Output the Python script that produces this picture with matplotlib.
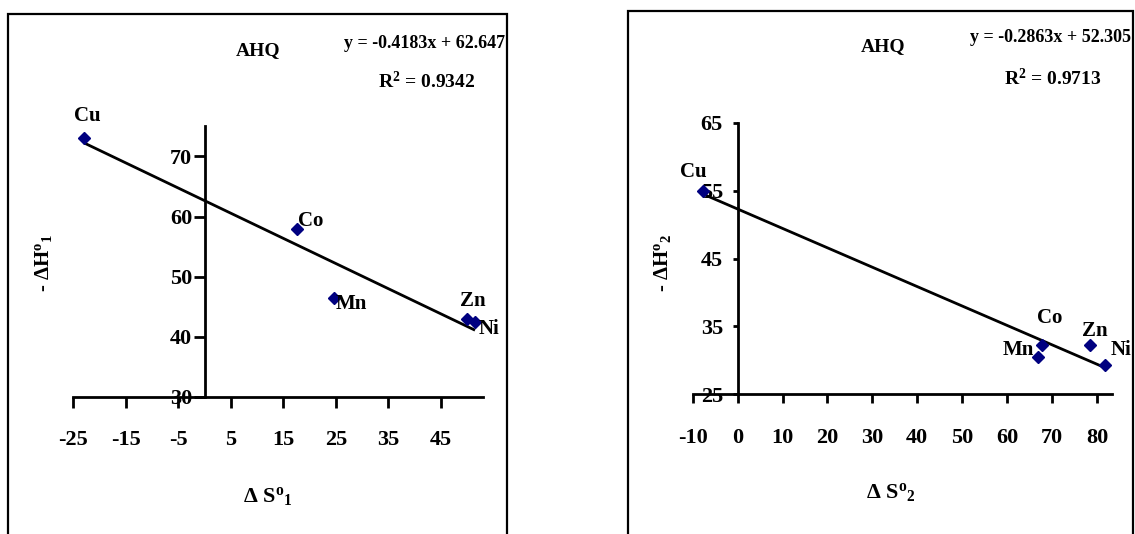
import matplotlib
matplotlib.use("Agg")
import matplotlib.pyplot as plt
from matplotlib.patches import Rectangle
import numpy as np

# ---------------- data ----------------
metals = ["Cu", "Co", "Mn", "Zn", "Ni"]

dS1 = [-22.9, 17.7, 24.6, 49.9, 51.5]
dH1 = [73.1, 57.9, 46.5, 42.9, 42.4]
slope1, intercept1, r2_1 = -0.4183, 62.647, 0.9342

dS2 = [-7.8, 67.7, 66.9, 78.4, 81.8]
dH2 = [55.0, 32.3, 30.4, 32.2, 29.3]
slope2, intercept2, r2_2 = -0.2863, 52.305, 0.9713

xticks1 = [-25, -15, -5, 5, 15, 25, 35, 45]
yticks1 = [30, 40, 50, 60, 70]
xticks2 = [-10, 0, 10, 20, 30, 40, 50, 60, 70, 80]
yticks2 = [25, 35, 45, 55, 65]

title = "AHQ"

# ---------------- style ----------------
plt.rcParams["font.family"] = ["Liberation Serif", "DejaVu Serif"]
plt.rcParams["font.weight"] = "bold"
plt.rcParams["mathtext.fontset"] = "custom"
plt.rcParams["mathtext.rm"] = "Liberation Serif:bold"
plt.rcParams["mathtext.bf"] = "Liberation Serif:bold"
plt.rcParams["mathtext.it"] = "Liberation Serif:bold"
plt.rcParams["mathtext.default"] = "bf"
plt.rcParams["axes.unicode_minus"] = False

W, H = 1135, 534
fig = plt.figure(figsize=(W / 100, H / 100), dpi=100)

def px_axes(x0, x1, ytop, ybot):
    return [x0 / W, 1 - ybot / H, (x1 - x0) / W, (ybot - ytop) / H]

marker_color = "#000080"
LW = 2.0

panels = [
    dict(rect=px_axes(73.2, 482.9, 126.3, 397), xlim=(-25, 53), ylim=(30, 75),
         xs=dS1, ys=dH1, slope=slope1, icpt=intercept1, r2=r2_1,
         xt=xticks1, yt=yticks1, xtl=11, ytl=11, ypad=1.0, xpad=16.0,
         xlabel=r"$\Delta$ S$^{o}$$_{1}$", ylabel=r"- $\Delta$H$^{o}$$_{1}$",
         xlc=(0.4755, -0.369), ylc=(-0.0737, 0.494),
         offs=[(3, 22), (13, 8), (18, -6), (6, 18), (14, -7)],
         frame=(8, 507, 13.7),
         title_xy=(258, 50.5), eq_xy=(425, 43.7), r2_xy=(427, 82)),
    dict(rect=px_axes(692.7, 1111.7, 123, 394), xlim=(-10, 83.3), ylim=(25, 65),
         xs=dS2, ys=dH2, slope=slope2, icpt=intercept2, r2=r2_2,
         xt=xticks2, yt=yticks2, xtl=9, ytl=5, ypad=7.0, xpad=18.0,
         xlabel=r"$\Delta$ S$^{o}$$_{2}$", ylabel=r"- $\Delta$H$^{o}$$_{2}$",
         xlc=(0.473, -0.365), ylc=(-0.072, 0.483),
         offs=[(-9, 19), (8, 27), (-20, 7), (5, 14), (16, 15)],
         frame=(628, 1133, 11),
         title_xy=(883, 47), eq_xy=(1050, 37), r2_xy=(1053, 78)),
]

for p in panels:
    # outer frame
    fx0, fx1, fy0 = p["frame"]
    fig.patches.append(Rectangle((fx0 / W, -0.05), (fx1 - fx0) / W, 1 - fy0 / H + 0.05,
                                 transform=fig.transFigure, fill=False,
                                 edgecolor="black", linewidth=1.6))

    ax = fig.add_axes(p["rect"])
    ax.set_xlim(*p["xlim"])
    ax.set_ylim(*p["ylim"])
    ax.patch.set_alpha(0)
    for s in ("top", "right"):
        ax.spines[s].set_visible(False)
    ax.spines["left"].set_position(("data", 0))
    ax.spines["left"].set_linewidth(LW)
    ax.spines["bottom"].set_linewidth(LW)

    ax.set_xticks(p["xt"])
    ax.set_yticks(p["yt"])
    ax.set_xticklabels([str(v) for v in p["xt"]])
    ax.set_yticklabels([str(v) for v in p["yt"]])
    ax.tick_params(axis="x", direction="out", length=p["xtl"] / 1.389, width=LW,
                   pad=p["xpad"], labelsize=16)
    ax.tick_params(axis="y", direction="out", length=p["ytl"] / 1.389, width=LW,
                   pad=p["ypad"], labelsize=16)

    # trendline from the fitted equation
    xs = np.array(p["xs"])
    xl = np.array([xs.min(), xs.max()])
    ax.plot(xl, p["slope"] * xl + p["icpt"], color="black", lw=LW,
            solid_capstyle="butt", clip_on=False, zorder=2)
    ax.plot(p["xs"], p["ys"], linestyle="none", marker="D", markersize=6,
            color=marker_color, clip_on=False, zorder=3)

    for name, x, y, off in zip(metals, p["xs"], p["ys"], p["offs"]):
        ax.annotate(name, (x, y), xytext=off, textcoords="offset pixels",
                    ha="center", va="center", fontsize=15, fontweight="bold")

    ax.set_xlabel(p["xlabel"], fontsize=16, fontweight="bold", va="center")
    ax.xaxis.set_label_coords(*p["xlc"])
    ax.set_ylabel(p["ylabel"], fontsize=15, fontweight="bold", va="center")
    ax.yaxis.set_label_coords(*p["ylc"])

    tx, ty = p["title_xy"]
    fig.text(tx / W, 1 - ty / H, title, ha="center", va="center",
             fontsize=14, fontweight="bold")
    ex, ey = p["eq_xy"]
    fig.text(ex / W, 1 - ey / H, f"y = {p['slope']:.4f}x + {p['icpt']:.3f}",
             ha="center", va="center", fontsize=13, fontweight="bold")
    rx, ry = p["r2_xy"]
    fig.text(rx / W, 1 - ry / H, f"R$^{{2}}$ = {p['r2']:.4f}",
             ha="center", va="center", fontsize=14, fontweight="bold")

fig.savefig("out.png", dpi=100)
